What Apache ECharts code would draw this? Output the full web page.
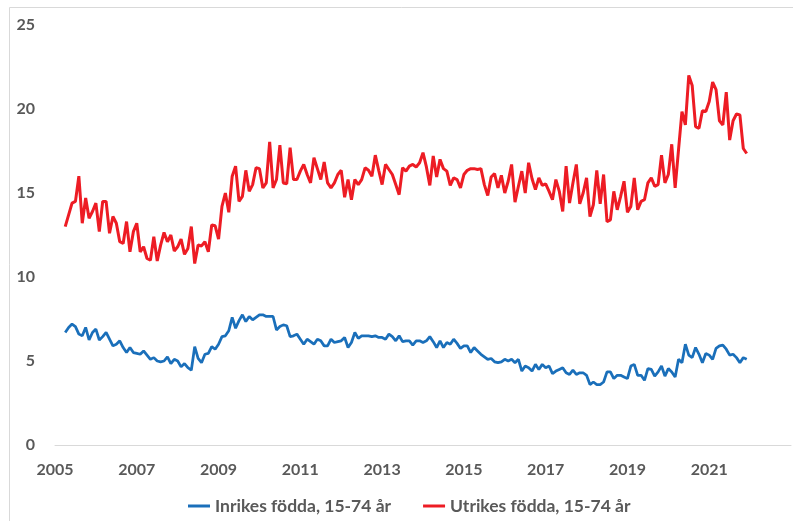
<!DOCTYPE html>
<html>
<head>
<meta charset="utf-8">
<script src="https://cdn.jsdelivr.net/npm/echarts@6/dist/echarts.min.js"></script>
<style>html,body{margin:0;padding:0;background:#fff}#c{width:793px;height:521px}</style>
</head>
<body>
<div id="c"></div>
<script>
// Monthly series, April 2005 – December 2021 (month index from Jan 2005)
const startMonthIndex = 3;
const xTickYears = [2005, 2007, 2009, 2011, 2013, 2015, 2017, 2019, 2021];
const seriesNames = ['Inrikes födda, 15-74 år', 'Utrikes födda, 15-74 år'];

const inrikes = [
6.7,7.0,7.2,7.05,6.6,6.5,7.0,6.25,6.7,6.9,
6.25,6.45,6.7,6.3,5.9,6.0,6.2,5.8,5.5,5.8,
5.5,5.45,5.4,5.6,5.35,5.1,5.2,5.0,4.95,5.0,
5.25,4.85,5.1,5.0,4.65,4.85,4.6,4.45,5.85,5.15,
4.9,5.4,5.45,5.85,5.7,6.0,6.45,6.5,6.8,7.6,
6.95,7.4,7.75,7.35,7.65,7.45,7.6,7.75,7.75,7.65,
7.65,7.65,6.85,7.05,7.15,7.1,6.45,6.5,6.6,6.3,
6.0,6.3,6.15,6.0,6.3,6.2,5.9,5.9,6.3,6.1,
6.15,6.2,6.4,5.8,6.1,6.7,6.35,6.5,6.5,6.5,
6.45,6.5,6.4,6.4,6.3,6.6,6.45,6.2,6.5,6.15,
6.2,6.2,5.95,6.2,6.2,6.1,6.2,6.45,6.15,5.8,
6.2,5.8,6.1,6.0,6.3,6.05,5.75,5.9,5.9,5.5,
5.8,5.6,5.4,5.25,5.1,5.15,4.95,4.9,4.95,5.1,
5.0,5.1,4.9,5.1,4.4,4.7,4.6,4.4,4.8,4.5,
4.8,4.6,4.7,4.25,4.4,4.5,4.6,4.3,4.2,4.45,
4.2,4.3,4.3,4.15,3.6,3.75,3.6,3.6,3.75,4.35,
4.35,3.95,4.15,4.15,4.05,3.95,4.7,4.8,4.15,4.15,
3.85,4.55,4.5,4.1,4.35,4.7,4.1,4.55,4.35,4.05,
5.1,4.9,6.0,5.35,5.2,5.8,5.4,4.9,5.45,5.35,
5.1,5.75,5.9,5.95,5.7,5.35,5.4,5.2,4.9,5.2,
5.1
];

const utrikes = [
13.0,13.7,14.4,14.5,16.0,13.2,14.7,13.5,13.9,14.4,
12.7,14.5,14.5,12.6,13.6,13.2,12.1,12.0,13.3,11.5,
12.7,13.2,11.5,11.8,11.1,11.0,12.4,10.95,11.9,12.65,
12.1,12.5,11.55,11.8,12.25,11.35,11.7,13.0,10.8,11.9,
11.85,12.1,11.5,13.1,13.05,12.25,14.2,15.0,13.85,16.0,
16.6,14.5,14.8,16.35,15.1,15.5,16.5,16.45,15.3,15.6,
18.05,15.3,15.8,17.85,15.6,15.55,17.7,15.8,15.8,16.3,
16.7,16.1,15.6,17.1,16.45,15.8,16.85,15.6,15.3,15.6,
16.1,16.35,14.75,15.8,14.6,15.8,15.5,15.8,16.5,16.35,
16.0,17.25,16.35,15.5,16.7,16.4,16.1,15.5,14.9,16.5,
16.3,16.6,16.7,16.55,16.8,17.4,16.55,15.45,17.2,15.95,
17.0,16.45,16.3,15.45,15.9,15.8,15.3,16.1,16.35,16.45,
16.45,16.4,16.45,15.5,14.85,15.95,16.15,15.3,16.05,15.0,
15.7,16.7,14.45,15.4,16.3,15.0,16.8,15.85,15.2,15.9,
15.45,15.55,15.1,14.6,15.8,15.1,13.9,16.6,14.4,15.6,
16.7,14.35,15.0,15.9,13.6,14.3,16.35,14.35,16.1,13.3,
13.4,15.1,14.0,14.8,15.7,13.85,14.2,15.9,14.0,14.5,
14.6,15.6,15.9,15.4,15.5,17.25,15.6,16.1,17.9,15.3,
17.6,19.85,19.05,22.0,21.4,18.95,18.85,19.9,19.85,20.45,
21.6,21.15,19.3,19.05,21.0,18.15,19.3,19.7,19.65,17.65,
17.35
];

const toPairs = arr => arr.map((v, i) => [startMonthIndex + i, v]);
const txt = '#595959';
const font = 'Lato';

const chart = echarts.init(document.getElementById('c'), null, {renderer: 'canvas'});
chart.setOption({
  animation: false,
  backgroundColor: '#ffffff',
  graphic: [{
    type: 'rect', silent: true,
    shape: {x: 9.5, y: 7.5, width: 820, height: 540},
    style: {fill: 'none', stroke: '#d9d9d9', lineWidth: 1}
  }],
  grid: {left: 55, right: 2, top: 25, bottom: 76, containLabel: false},
  xAxis: {
    type: 'value', min: 0, max: 216, interval: 24,
    axisLine: {show: true, lineStyle: {color: '#d9d9d9', width: 1}},
    axisTick: {show: false},
    splitLine: {show: false},
    axisLabel: {
      color: txt, fontFamily: font, fontWeight: 'bold', fontSize: 16, margin: 17,
      showMaxLabel: false,
      formatter: v => String(xTickYears[0] + v / 12)
    }
  },
  yAxis: {
    type: 'value', min: 0, max: 25, interval: 5,
    axisLine: {show: false}, axisTick: {show: false}, splitLine: {show: false},
    axisLabel: {color: txt, fontFamily: font, fontWeight: 'bold', fontSize: 16, margin: 20}
  },
  legend: {
    top: 492, left: 183,
    icon: 'rect', itemWidth: 22, itemHeight: 3, itemGap: 32,
    textStyle: {color: txt, fontFamily: font, fontWeight: 'bold', fontSize: 17.5},
    data: seriesNames
  },
  series: [
    {name: seriesNames[0], type: 'line', showSymbol: false, symbol: 'none',
     color: '#1a6fba', lineStyle: {width: 2.75, color: '#1a6fba'}, data: toPairs(inrikes)},
    {name: seriesNames[1], type: 'line', showSymbol: false, symbol: 'none',
     color: '#ed1c24', lineStyle: {width: 3, color: '#ed1c24'}, data: toPairs(utrikes)}
  ]
});
</script>
</body>
</html>
